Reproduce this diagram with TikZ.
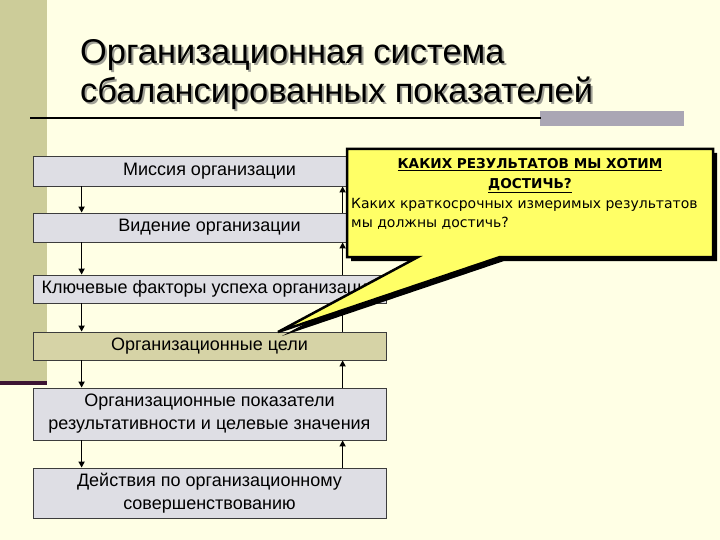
\documentclass[tikz,border=0pt]{standalone}
\usepackage{fontspec}
\setmainfont{Liberation Sans}
\newfontfamily\callfont{DejaVu Sans}
\usetikzlibrary{arrows.meta}
\definecolor{bgc}{RGB}{255,255,229}
\definecolor{bandc}{RGB}{204,204,153}
\definecolor{darklc}{RGB}{60,20,50}
\definecolor{boxc}{RGB}{222,222,228}
\definecolor{boxborder}{RGB}{60,60,60}
\definecolor{goalc}{RGB}{214,211,166}
\definecolor{yelc}{RGB}{255,255,102}
\definecolor{barc}{RGB}{170,166,180}
\definecolor{shadc}{RGB}{160,160,150}
\tikzset{
  stagebox/.style={draw=boxborder, line width=0.8pt, fill=boxc, minimum width=353pt, inner sep=0pt, align=center, font=\fontsize{18}{23}\selectfont},
  flowarrow/.style={line width=1.6pt, -{Triangle[length=6pt,width=6pt]}},
  titletext/.style={anchor=base west, inner sep=0pt, font=\fontsize{34.4}{40}\selectfont},
}
\begin{document}
\begin{tikzpicture}[x=1pt,y=-1pt]
\useasboundingbox (0,0) rectangle (720,540);
\fill[bgc] (0,0) rectangle (720,540);
\fill[bandc] (0,0) rectangle (47,382);
\fill[darklc] (0,381) rectangle (47,385);
% title
\node[titletext, text=shadc] at (82,66) {Организационная система};
\node[titletext] (t1) at (80,64) {Организационная система};
\node[titletext, text=shadc] at (82,105) {сбалансированных показателей};
\node[titletext] (t2) at (80,103) {сбалансированных показателей};
\fill[barc] (540,111) rectangle (684,126);
\draw[line width=2pt] (30,118) -- (541,118);
% boxes
\node[stagebox, minimum height=30pt] (m) at (209.5,171) {Миссия организации};
\node[stagebox, minimum height=29pt] (v) at (209.5,227.5) {Видение организации};
\node[stagebox, minimum height=28pt] (k) at (209.5,289) {Ключевые факторы успеха организации};
\node[stagebox, minimum height=28pt, fill=goalc] (g) at (209.5,346) {Организационные цели};
\node[stagebox, minimum height=52pt] (p) at (209.5,414) {Организационные показатели\\результативности и целевые значения};
\node[stagebox, minimum height=50pt] (a) at (209.5,493) {Действия по организационному\\совершенствованию};
% down arrows
\draw[flowarrow] ([xshift=49pt]m.south west) -- ([xshift=49pt]v.north west);
\draw[flowarrow] ([xshift=49pt]v.south west) -- ([xshift=49pt]k.north west);
\draw[flowarrow] ([xshift=49pt]k.south west) -- ([xshift=49pt]g.north west);
\draw[flowarrow] ([xshift=49pt]g.south west) -- ([xshift=49pt]p.north west);
\draw[flowarrow] ([xshift=49pt]p.south west) -- ([xshift=49pt]a.north west);
% up arrows
\draw[flowarrow] ([xshift=310pt]a.north west) -- ([xshift=310pt]p.south west);
\draw[flowarrow] ([xshift=310pt]p.north west) -- ([xshift=310pt]g.south west);
\draw[flowarrow] ([xshift=310pt]g.north west) -- ([xshift=310pt]k.south west);
\draw[flowarrow] ([xshift=310pt]k.north west) -- ([xshift=310pt]v.south west);
\draw[flowarrow] ([xshift=310pt]v.north west) -- ([xshift=310pt]m.south west);
% callout
\fill[black] (351,153) -- (717,153) -- (717,261) -- (504,261) -- (282,336) -- (422,261) -- (351,261) -- cycle;
\draw[fill=yelc, line width=2.5pt, line join=miter] (347,149) -- (713,149) -- (713,257) -- (500,257) -- (278,332) -- (418,257) -- (347,257) -- cycle;
\node[font=\callfont\bfseries\fontsize{13.6}{20.5}\selectfont, align=center, inner sep=0pt, anchor=base] (ch) at (530,189) {\underline{КАКИХ РЕЗУЛЬТАТОВ МЫ ХОТИМ}\\\underline{ДОСТИЧЬ?}};
\node[font=\callfont\fontsize{14}{20}\selectfont, align=left, anchor=base west, inner sep=0pt] (cb) at (351,228) {Каких краткосрочных измеримых результатов\\мы должны достичь?};
\end{tikzpicture}
\end{document}
